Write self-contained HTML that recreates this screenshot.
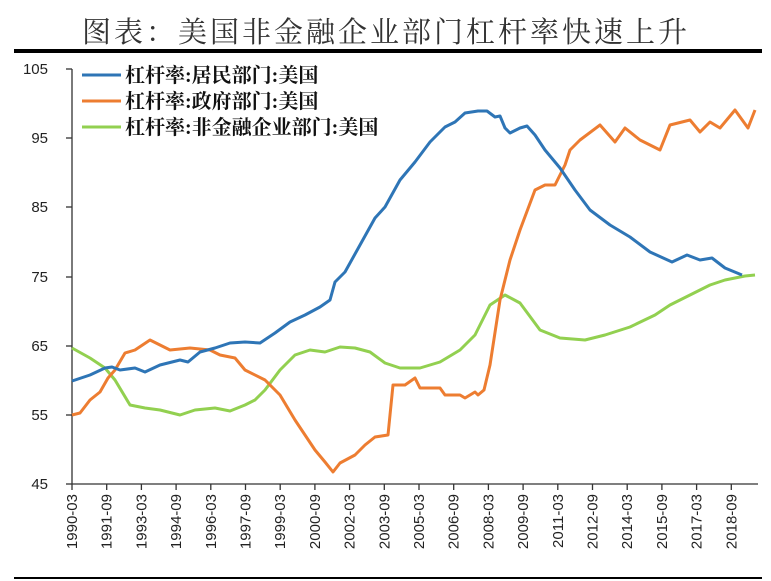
<!DOCTYPE html>
<html><head><meta charset="utf-8"><style>
body{margin:0;background:#fff;width:771px;height:581px;overflow:hidden}
svg{display:block}
.t{font-family:"Liberation Serif","Noto Serif CJK SC",serif}
.a{font-family:"Liberation Sans",sans-serif;font-size:15px;fill:#222}
</style></head><body>
<svg width="771" height="581" viewBox="0 0 771 581">
<text x="386" y="42" text-anchor="middle" class="t" font-size="29" fill="#333" letter-spacing="3">图表：美国非金融企业部门杠杆率快速上升</text>
<rect x="14" y="49" width="748" height="4" fill="#000"/>
<rect x="14" y="577" width="748" height="2" fill="#000"/>
<g stroke="#333" stroke-width="1.3" fill="none">
<line x1="72" y1="69" x2="72" y2="484"/>
<line x1="72" y1="484" x2="758" y2="484"/>
<line x1="66" y1="69" x2="72" y2="69"/><line x1="66" y1="138" x2="72" y2="138"/><line x1="66" y1="207" x2="72" y2="207"/><line x1="66" y1="277" x2="72" y2="277"/><line x1="66" y1="346" x2="72" y2="346"/><line x1="66" y1="415" x2="72" y2="415"/><line x1="66" y1="484" x2="72" y2="484"/>
<path d="M72 484v6M106.7 484v6M141.4 484v6M176.1 484v6M210.8 484v6M245.5 484v6M280.2 484v6M314.9 484v6M349.6 484v6M384.3 484v6M419 484v6M453.7 484v6M488.4 484v6M523.1 484v6M557.8 484v6M592.5 484v6M627.2 484v6M661.9 484v6M696.6 484v6M731.3 484v6"/>
</g>
<g class="a" text-anchor="end">
<text x="48" y="74">105</text><text x="48" y="143">95</text><text x="48" y="212">85</text><text x="48" y="282">75</text><text x="48" y="351">65</text><text x="48" y="420">55</text><text x="48" y="489">45</text>
</g>
<g class="a" text-anchor="end">
<text transform="translate(77,494) rotate(-90)">1990-03</text>
<text transform="translate(111.7,494) rotate(-90)">1991-09</text>
<text transform="translate(146.4,494) rotate(-90)">1993-03</text>
<text transform="translate(181.1,494) rotate(-90)">1994-09</text>
<text transform="translate(215.8,494) rotate(-90)">1996-03</text>
<text transform="translate(250.5,494) rotate(-90)">1997-09</text>
<text transform="translate(285.2,494) rotate(-90)">1999-03</text>
<text transform="translate(319.9,494) rotate(-90)">2000-09</text>
<text transform="translate(354.6,494) rotate(-90)">2002-03</text>
<text transform="translate(389.3,494) rotate(-90)">2003-09</text>
<text transform="translate(424,494) rotate(-90)">2005-03</text>
<text transform="translate(458.7,494) rotate(-90)">2006-09</text>
<text transform="translate(493.4,494) rotate(-90)">2008-03</text>
<text transform="translate(528.1,494) rotate(-90)">2009-09</text>
<text transform="translate(562.8,494) rotate(-90)">2011-03</text>
<text transform="translate(597.5,494) rotate(-90)">2012-09</text>
<text transform="translate(632.2,494) rotate(-90)">2014-03</text>
<text transform="translate(666.9,494) rotate(-90)">2015-09</text>
<text transform="translate(701.6,494) rotate(-90)">2017-03</text>
<text transform="translate(736.3,494) rotate(-90)">2018-09</text>
</g>
<g fill="none" stroke-width="3" stroke-linejoin="round">
<polyline stroke="#92d050" points="72,348 90,358 105,368 115,380 130,405 145,408 160,410 180,415 195,410 215,408 230,411 245,405 255,400 265,390 280,370 295,355 310,350 325,352 340,347 355,348 370,352 385,363 400,368 420,368 440,362 460,350 475,335 490,305 505,295 520,303 540,330 560,338 585,340 605,335 630,327 655,315 670,305 690,295 710,285 725,280 745,276 755,275"/>
<polyline stroke="#ed7d31" points="72,415 80,413 90,400 100,392 108,378 115,370 125,353 135,350 150,340 160,345 170,350 190,348 210,350 220,355 235,358 245,370 265,380 280,395 295,420 305,435 315,450 325,462 333,472 340,463 355,455 365,445 375,437 388,435 393,385 405,385 415,378 420,388 440,388 445,395 460,395 465,398 475,392 478,395 484,390 490,365 500,300 510,260 520,230 535,190 545,185 555,185 565,165 570,150 580,140 600,125 615,142 625,128 640,140 660,150 670,125 690,120 700,132 710,122 720,128 735,110 748,128 755,110"/>
<polyline stroke="#2e75b6" points="72,381 90,375 105,368 112,367 120,370 135,368 145,372 160,365 180,360 188,362 200,352 215,348 230,343 245,342 260,343 275,333 290,322 305,315 320,307 330,300 335,282 345,272 360,245 375,218 385,207 400,180 415,162 430,142 445,127 455,122 465,113 478,111 487,111 495,117 500,116 505,128 510,133 520,128 527,126 535,135 545,150 560,168 575,190 590,210 610,225 630,237 650,252 672,262 687,255 700,260 712,258 725,268 742,275"/>
</g>
<g stroke-width="3">
<line x1="82" y1="75" x2="121" y2="75" stroke="#2e75b6"/>
<line x1="82" y1="101" x2="121" y2="101" stroke="#ed7d31"/>
<line x1="82" y1="127" x2="121" y2="127" stroke="#92d050"/>
</g>
<g class="t" font-size="20" fill="#111" font-weight="bold">
<text x="125" y="82">杠杆率:居民部门:美国</text>
<text x="125" y="108">杠杆率:政府部门:美国</text>
<text x="125" y="134">杠杆率:非金融企业部门:美国</text>
</g>
</svg>
</body></html>
